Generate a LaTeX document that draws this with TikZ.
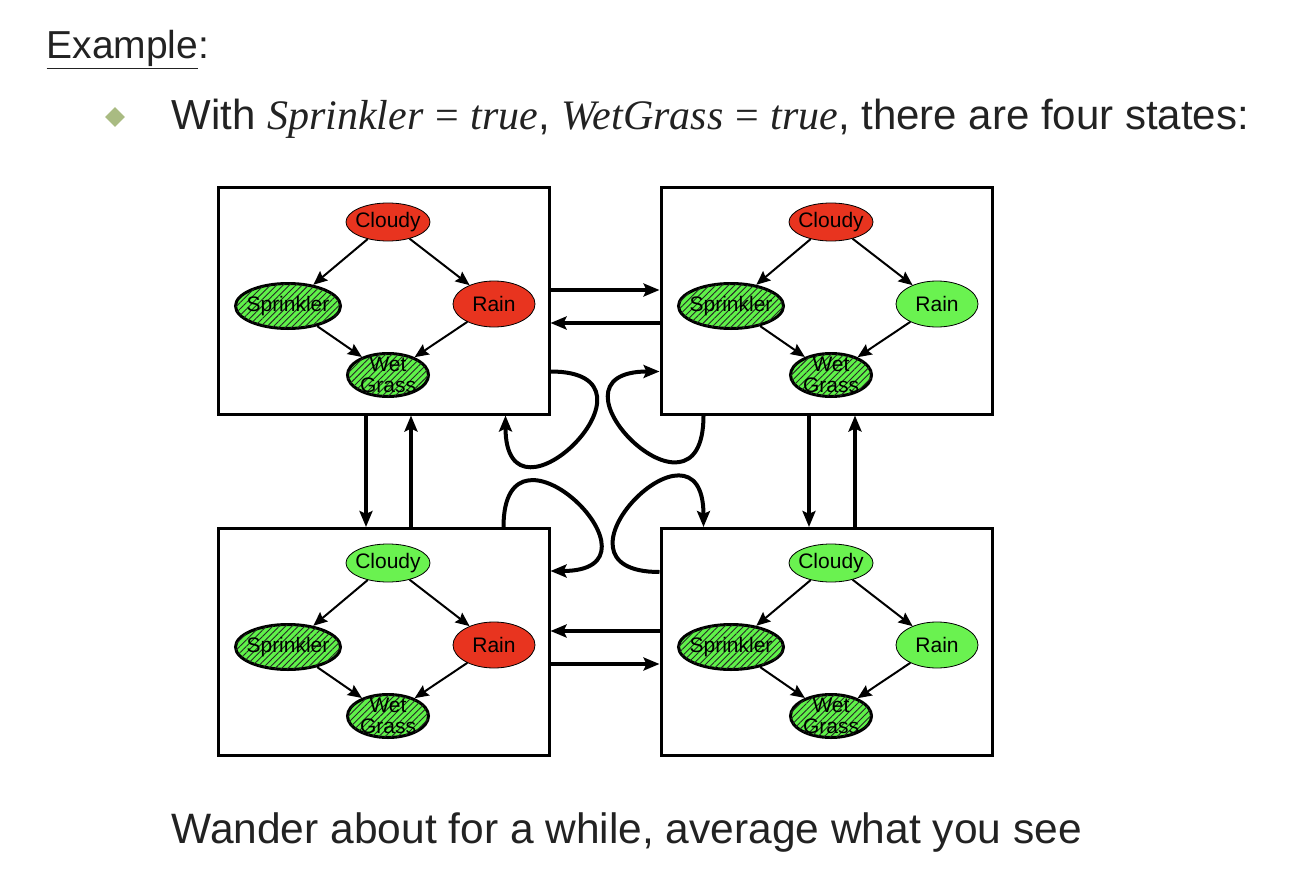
\documentclass[tikz,border=0pt]{standalone}
\usepackage{fontspec}
\setmainfont{Liberation Sans}
\newfontfamily\serifit{Liberation Serif}
\usetikzlibrary{arrows.meta,shapes.geometric,patterns.meta}
\definecolor{ink}{HTML}{222222}
\definecolor{olive}{HTML}{A9BB82}
\definecolor{hot}{HTML}{E8341F}
\definecolor{leaf}{HTML}{6AF250}
\definecolor{moss}{HTML}{5FF249}

\begin{document}
\begin{tikzpicture}[x=1pt,y=1pt,
  statebox/.style={draw=black,line width=3pt,minimum width=331pt,minimum height=227pt,inner sep=0pt},
  var/.style={ellipse,draw=black,line width=0.8pt,inner xsep=-6pt,inner ysep=-5pt,align=center,
              font=\fontsize{21}{21}\selectfont},
  cloudyvar/.style={var,minimum width=84pt,minimum height=38pt},
  rainvar/.style={var,minimum width=82pt,minimum height=46pt},
  sprinklervar/.style={var,minimum width=105pt,minimum height=45pt},
  wetvar/.style={var,minimum width=81pt,minimum height=43pt},
  clamped/.style={line width=3pt,fill=moss,
                  postaction={pattern={Lines[angle=45,distance=4.5pt,line width=0.9pt]},pattern color=black!85}},
  edge/.style={-{Stealth[length=14pt,width=12pt,inset=2pt]},line width=2pt},
  move/.style={-{Stealth[length=16pt,width=13pt,inset=3pt]},line width=4pt}]
\useasboundingbox (0,0) rectangle (1304,-880);

\node[anchor=base west,text=ink,font=\fontsize{39}{44}\selectfont] (title) at (43,-59) {\underline{Example}:};
\node[diamond,fill=olive,minimum size=20pt,inner sep=0pt] (bullet) at (115,-117) {};
\node[anchor=base west,text=ink,font=\fontsize{42}{46}\selectfont] (intro) at (168,-130)
  {With {\serifit\itshape Sprinkler} {\serifit=} {\serifit\itshape true}, {\serifit\itshape WetGrass} {\serifit=} {\serifit\itshape true}, there are four states:};
\node[anchor=base west,text=ink,font=\fontsize{42.5}{46}\selectfont] (wander) at (168,-843)
  {Wander about for a while, average what you see};

\node[statebox] (tl) at (383.5,-300.5) {};
\node[cloudyvar,fill=hot] (tlc) at (388,-222) {Cloudy};
\node[sprinklervar,clamped] (tls) at (288,-306) {Sprinkler};
\node[rainvar,fill=hot] (tlr) at (494,-304) {Rain};
\node[wetvar,clamped] (tlw) at (388,-375) {Wet\\Grass};

\node[statebox] (tr) at (826.5,-300.5) {};
\node[cloudyvar,fill=hot] (trc) at (831,-222) {Cloudy};
\node[sprinklervar,clamped] (trs) at (731,-306) {Sprinkler};
\node[rainvar,fill=leaf] (trr) at (937,-304) {Rain};
\node[wetvar,clamped] (trw) at (831,-375) {Wet\\Grass};

\node[statebox] (bl) at (383.5,-642) {};
\node[cloudyvar,fill=leaf] (blc) at (388,-563) {Cloudy};
\node[sprinklervar,clamped] (bls) at (288,-647) {Sprinkler};
\node[rainvar,fill=hot] (blr) at (494,-645) {Rain};
\node[wetvar,clamped] (blw) at (388,-716) {Wet\\Grass};

\node[statebox] (br) at (826.5,-642) {};
\node[cloudyvar,fill=leaf] (brc) at (831,-563) {Cloudy};
\node[sprinklervar,clamped] (brs) at (731,-647) {Sprinkler};
\node[rainvar,fill=leaf] (brr) at (937,-645) {Rain};
\node[wetvar,clamped] (brw) at (831,-716) {Wet\\Grass};

\draw[edge] (tlc) -- (tls); \draw[edge] (tlc) -- (tlr); \draw[edge] (tls) -- (tlw); \draw[edge] (tlr) -- (tlw);
\draw[edge] (trc) -- (trs); \draw[edge] (trc) -- (trr); \draw[edge] (trs) -- (trw); \draw[edge] (trr) -- (trw);
\draw[edge] (blc) -- (bls); \draw[edge] (blc) -- (blr); \draw[edge] (bls) -- (blw); \draw[edge] (blr) -- (blw);
\draw[edge] (brc) -- (brs); \draw[edge] (brc) -- (brr); \draw[edge] (brs) -- (brw); \draw[edge] (brr) -- (brw);

% moves between states
\draw[move] ([yshift=10.5pt]tl.east) -- ([yshift=10.5pt]tr.west);
\draw[move] ([yshift=-22.5pt]tr.west) -- ([yshift=-22.5pt]tl.east);
\draw[move] ([yshift=11pt]br.west) -- ([yshift=11pt]bl.east);
\draw[move] ([yshift=-22pt]bl.east) -- ([yshift=-22pt]br.west);
\draw[move] ([xshift=-17.5pt]tl.south) -- ([xshift=-17.5pt]bl.north);
\draw[move] ([xshift=27.5pt]bl.north) -- ([xshift=27.5pt]tl.south);
\draw[move] ([xshift=-17.5pt]tr.south) -- ([xshift=-17.5pt]br.north);
\draw[move] ([xshift=28.5pt]br.north) -- ([xshift=28.5pt]tr.south);

% staying put
\draw[move] ([yshift=44pt]tl.south east) .. controls +(127,0) and +(0,-127) .. ([xshift=-45pt]tl.south east);
\draw[move] ([xshift=44pt]tr.south west) .. controls +(0,-127) and +(-127,0) .. ([yshift=44pt]tr.south west);
\draw[move] ([xshift=-47pt]bl.north east) .. controls +(0,127) and +(127,0) .. ([yshift=-44pt]bl.north east);
\draw[move] ([yshift=-45pt]br.north west) .. controls +(-127,0) and +(0,127) .. ([xshift=44pt]br.north west);
\end{tikzpicture}
\end{document}
